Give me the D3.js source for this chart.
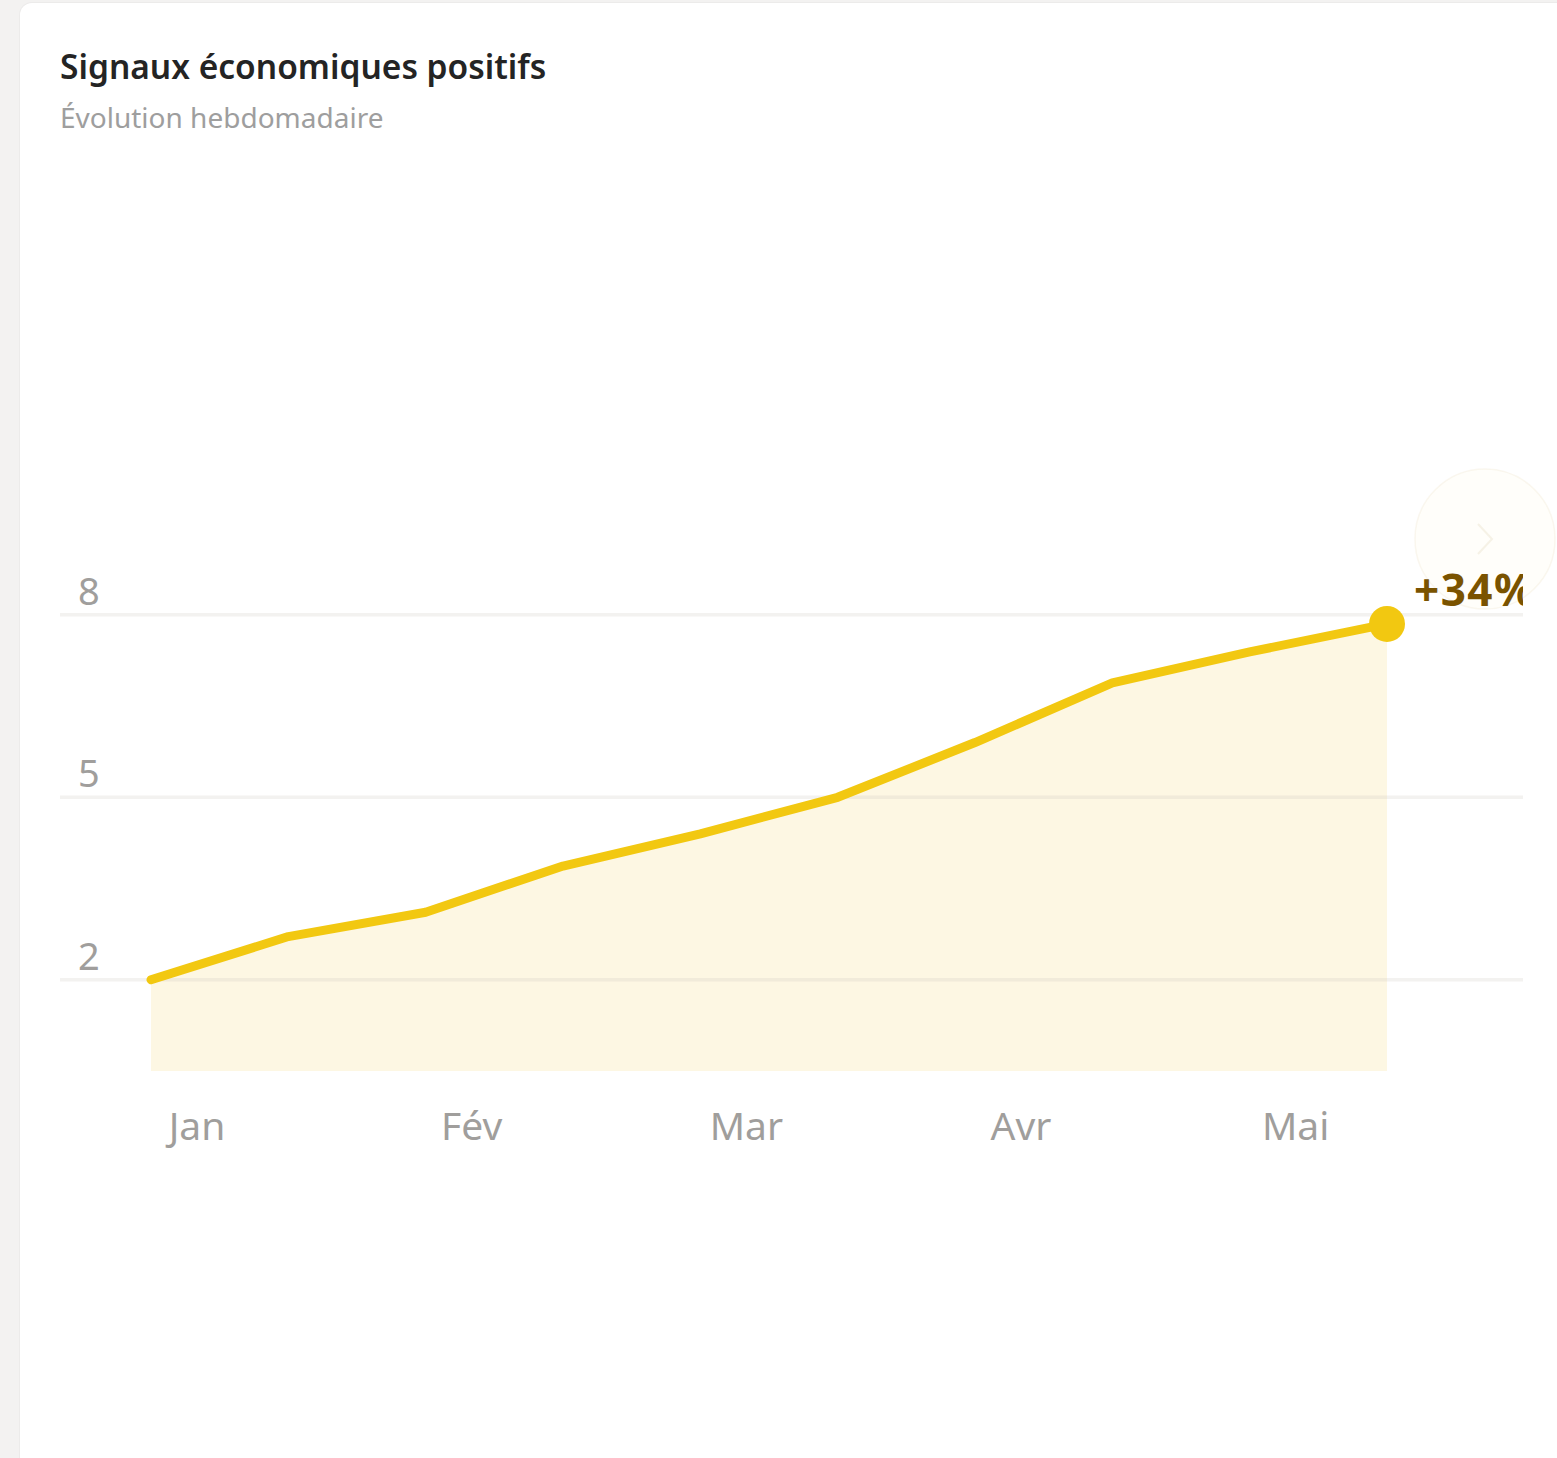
<!DOCTYPE html>
<html lang="fr">
<head>
<meta charset="utf-8">
<title>Signaux économiques positifs</title>
<script src="https://cdn.jsdelivr.net/npm/d3@7"></script>
<style>
  html, body { margin: 0; padding: 0; }
  body {
    width: 1557px;
    height: 1458px;
    overflow: hidden;
    background: #f3f2f1;
    font-family: "Noto Sans", "Open Sans", sans-serif;
    position: relative;
  }
  .card {
    position: absolute;
    left: 20px;
    top: 3px;
    width: 1600px;
    height: 1500px;
    background: #fff;
    border-radius: 12px;
    box-shadow: 0 0 0 1px #ecebea;
  }
  .card h2 {
    position: absolute;
    left: 40px;
    top: 40px;
    margin: 0;
    font-size: 33.5px;
    font-weight: 600;
    color: #242424;
    white-space: nowrap;
  }
  .card p {
    position: absolute;
    left: 40px;
    top: 95px;
    margin: 0;
    font-size: 28px;
    color: #9e9e9e;
    white-space: nowrap;
  }
  #nav {
    position: absolute;
    left: 1390px;
    top: 461px;
  }
  #chart {
    position: absolute;
    left: 40px;
    top: 134px;
    overflow: hidden;
  }
</style>
</head>
<body>
<div class="card">
  <h2>Signaux économiques positifs</h2>
  <p>Évolution hebdomadaire</p>
  <svg id="nav"></svg>
  <svg id="chart"></svg>
</div>
<script>
const weeks = ['S1', 'S2', 'S3', 'S4', 'S5', 'S6', 'S7', 'S8', 'S9', 'S10'];
const values = [2.0, 2.71, 3.11, 3.87, 4.40, 5.0, 5.90, 6.88, 7.39, 7.85];
const months = ['Jan', 'Fév', 'Mar', 'Avr', 'Mai'];
const monthWeeks = ['S1', 'S3', 'S5', 'S7', 'S9'];
const yTicks = [2, 5, 8];
const changeLabel = '+34%';

const width = 1463,
    height = 1100,
    yellow = '#f2c811';

const svg = d3.select('#chart')
    .attr('width', width)
    .attr('height', height);

const x = d3.scalePoint()
    .domain(weeks)
    .range([91, 1327]);

const y = d3.scaleLinear()
    .domain([0.5, 8])
    .range([934, 477.8]);

const data = weeks.map((w, i) => ({ week: w, value: values[i] }));

// area under the line
const area = d3.area()
    .x(d => x(d.week))
    .y0(y(0.5))
    .y1(d => y(d.value));

svg.append('path')
    .datum(data)
    .attr('d', area)
    .attr('fill', '#fdf7e3');

// gridlines + y labels
const yAxis = svg.append('g').attr('class', 'y-axis');

yAxis.selectAll('line')
    .data(yTicks)
    .join('line')
    .attr('x1', 0)
    .attr('x2', width)
    .attr('y1', d => y(d))
    .attr('y2', d => y(d))
    .attr('stroke', 'rgba(200,195,185,0.22)')
    .attr('stroke-width', 3.5);

yAxis.selectAll('text')
    .data(yTicks)
    .join('text')
    .attr('x', 18)
    .attr('y', d => y(d) - 10)
    .attr('fill', '#a09e9c')
    .style('font-size', '38px')
    .text(d => d);

// line
const line = d3.line()
    .x(d => x(d.week))
    .y(d => y(d.value));

svg.append('path')
    .datum(data)
    .attr('d', line)
    .attr('fill', 'none')
    .attr('stroke', yellow)
    .attr('stroke-width', 9)
    .attr('stroke-linecap', 'round')
    .attr('stroke-linejoin', 'round');

// end dot + label
const last = data[data.length - 1];

svg.append('circle')
    .attr('cx', x(last.week))
    .attr('cy', y(last.value))
    .attr('r', 18)
    .attr('fill', yellow);

svg.append('text')
    .attr('x', x(last.week) + 27)
    .attr('y', y(last.value) - 18)
    .attr('fill', '#7a5300')
    .style('font-size', '44px')
    .style('font-weight', '700')
    .style('letter-spacing', '1.5px')
    .text(changeLabel);

// month labels
svg.append('g')
    .selectAll('text')
    .data(months)
    .join('text')
    .attr('x', (d, i) => x(monthWeeks[i]) + 46)
    .attr('y', 1003)
    .attr('text-anchor', 'middle')
    .attr('fill', '#a09e9c')
    .style('font-size', '39px')
    .text(d => d);

// faint nav button on the right edge, behind the chart
const nav = d3.select('#nav')
    .attr('width', 150)
    .attr('height', 150);

nav.append('circle')
    .attr('cx', 75)
    .attr('cy', 75)
    .attr('r', 70)
    .attr('fill', 'rgba(255,252,240,0.35)')
    .attr('stroke', 'rgba(235,225,195,0.25)')
    .attr('stroke-width', 1.5);

nav.append('path')
    .attr('d', 'M68,60 L82,75 L68,90')
    .attr('fill', 'none')
    .attr('stroke', 'rgba(225,215,185,0.3)')
    .attr('stroke-width', 2);
</script>
</body>
</html>
